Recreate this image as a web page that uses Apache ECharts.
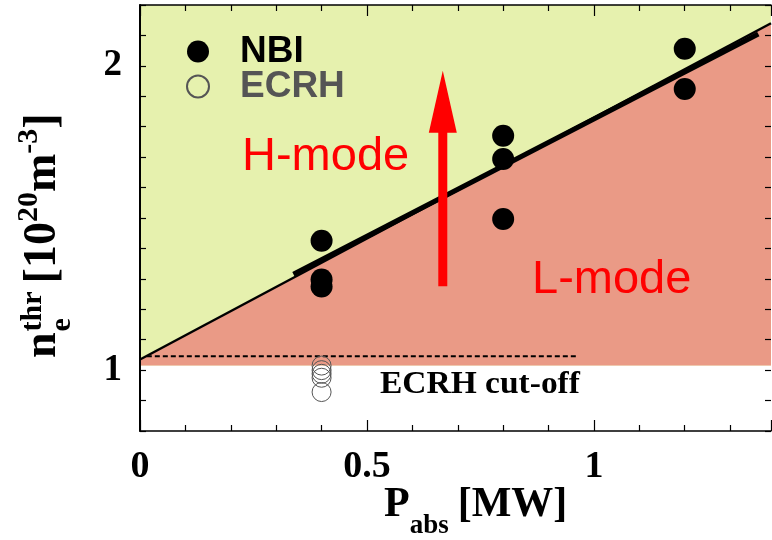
<!DOCTYPE html>
<html><head><meta charset="utf-8">
<script src="https://cdn.jsdelivr.net/npm/echarts@6/dist/echarts.min.js"></script>
<style>html,body{margin:0;padding:0;background:#fff}#c{width:772px;height:540px}</style>
</head><body><div id="c"></div>
<script>
// ---- data ----
const nbiX = [0.4, 0.4, 0.4, 0.8, 0.8, 0.8, 1.2, 1.2];
const nbiY = [1.425, 1.298, 1.275, 1.77, 1.694, 1.497, 2.056, 1.924];
const ecrhX = [0.4, 0.4, 0.4, 0.4, 0.4];
const ecrhY = [1.015, 1.0, 0.988, 0.975, 0.928];
const hModeX = [0, 0, 1.39, 1.39];
const hModeY = [1.015, 2.2, 2.2, 1.015];
const lModeX = [0, 0, 1.39, 1.39];
const lModeY = [1.015, 1.035, 2.14, 1.015];
const boundaryX = [0, 1.39];
const boundaryY = [1.035, 2.14];
const fitX = [0.338, 1.362];
const fitY = [1.315, 2.105];
const cutoffX = [0.015, 0.965];
const cutoffY = [1.046, 1.046];
const arrowX = [0.667, 0.667];
const arrowY = [1.276, 1.984];
const xTickLabels = [0, 0.5, 1];
const yTickLabels = [1, 2];
const xRange = [0, 1.39];
const yRange = [0.8, 2.2];

const SERIF = '"Liberation Serif", "Times New Roman", serif';
const SANS = '"Liberation Sans", Arial, sans-serif';
const zip = (a, b) => a.map((v, i) => [v, b[i]]);

const mctx = document.createElement('canvas').getContext('2d');
function tw(text, size, weight, family) { mctx.font = weight + ' ' + size + 'px ' + family; return mctx.measureText(text).width; }
function buildRow(parts, family, weight) {
  let cx = 0; const out = [];
  parts.forEach(p => {
    if (p.gap) { cx += p.gap; return; }
    out.push({ type: 'text', x: cx, y: (p.dy || 0) - 0.305 * p.s,
      style: { text: p.t, font: weight + ' ' + p.s + 'px ' + family, fill: '#000', align: 'left', verticalAlign: 'middle' } });
    if (p.adv !== false) cx += tw(p.t, p.s, weight, family);
  });
  return out;
}
const FY = 46, fy = 30;
const yTitle = buildRow([
  { t: 'n', s: FY }, { gap: 1 },
  { t: 'e', s: fy, dy: 14, adv: false },
  { t: 'thr', s: fy, dy: -15 }, { gap: 8 },
  { t: '[10', s: FY }, { t: '20', s: fy, dy: -19 },
  { t: 'm', s: FY }, { t: '-3', s: fy, dy: -19 }, { t: ']', s: FY }
], SERIF, 'bold');
const xTitle = buildRow([
  { t: 'P', s: 42 }, { t: 'abs', s: 27, dy: 16 }, { gap: 9 }, { t: '[MW]', s: 42 }
], SERIF, 'bold');

const regionPolys = [
  { xs: hModeX, ys: hModeY, fill: '#e6f1ae' },
  { xs: lModeX, ys: lModeY, fill: '#ea9a86' }
];

const near = (v, arr) => arr.some(t => Math.abs(v - t) < 1e-6);

const tickStyle = { color: '#000', width: 1.2 };
function xAx(pos, showLabel) {
  return {
    type: 'value', position: pos, z: 10, min: xRange[0], max: xRange[1], interval: 0.5,
    axisLine: { show: true, onZero: false, lineStyle: { color: '#000', width: 1.5 } },
    axisTick: { show: true, inside: true, length: 11, lineStyle: tickStyle },
    minorTick: { show: true, splitNumber: 5, length: 6, lineStyle: tickStyle },
    splitLine: { show: false }, minorSplitLine: { show: false },
    axisLabel: { show: showLabel, showMaxLabel: false, margin: 17, color: '#000', fontFamily: SERIF, fontWeight: 'bold', fontSize: 38,
      formatter: v => near(v, xTickLabels) ? String(v) : '' }
  };
}
function yAx(pos, showLabel, lineShow) {
  return {
    type: 'value', position: pos, z: 10, min: yRange[0], max: yRange[1], interval: 0.1,
    axisLine: { show: lineShow, onZero: false, lineStyle: { color: '#000', width: 2 } },
    axisTick: { show: true, inside: true, length: 6, interval: 0, lineStyle: tickStyle },
    splitLine: { show: false },
    axisLabel: { show: showLabel, interval: 0, margin: 18, color: '#000', fontFamily: SERIF, fontWeight: 'bold', fontSize: 37,
      formatter: v => near(v, yTickLabels) ? String(Math.round(v)) : '' }
  };
}

const chart = echarts.init(document.getElementById('c'), null, { renderer: 'canvas' });
chart.setOption({
  animation: false,
  backgroundColor: '#fff',
  grid: { left: 140, right: 1, top: 5, bottom: 109, containLabel: false, outerBoundsMode: 'none' },
  xAxis: [xAx('bottom', true), xAx('top', false)],
  yAxis: [yAx('left', true, true), yAx('right', false, false)],
  legend: {
    orient: 'vertical', left: 181, top: 28, itemGap: -2, itemWidth: 74, itemHeight: 22,
    data: [
      { name: 'NBI', textStyle: { color: '#000' } },
      { name: 'ECRH', textStyle: { color: '#555' } }
    ],
    textStyle: { fontFamily: SANS, fontWeight: 'bold', fontSize: 37 }
  },
  graphic: [
    { type: 'group', x: 57, y: 358, rotation: Math.PI / 2, children: yTitle },
    { type: 'group', x: 384, y: 518, children: xTitle },
    { type: 'text', x: 242, y: 157, style: { text: 'H-mode', font: '47px ' + SANS, fill: '#ff0000', align: 'left', verticalAlign: 'middle' }, z: 50 },
    { type: 'text', x: 532, y: 280, style: { text: 'L-mode', font: '47px ' + SANS, fill: '#ff0000', align: 'left', verticalAlign: 'middle' }, z: 50 },
    { type: 'text', x: 380, y: 385, scaleX: 1.08, style: { text: 'ECRH cut-off', font: 'bold 31px ' + SERIF, fill: '#000', align: 'left', verticalAlign: 'middle' }, z: 50 }
  ],
  series: [
    {
      type: 'custom', name: 'regions', z: 1, clip: true, silent: true,
      data: regionPolys.map((p, i) => [i * 0.1, 1]),
      renderItem: (params, api) => {
        const p = regionPolys[params.dataIndex];
        return { type: 'polygon', shape: { points: p.xs.map((x, k) => api.coord([x, p.ys[k]])) }, style: { fill: p.fill } };
      }
    },
    { type: 'line', name: 'boundary', z: 3, data: zip(boundaryX, boundaryY), symbol: 'none', lineStyle: { color: '#000', width: 2.5 } },
    { type: 'line', name: 'fit', z: 4, data: zip(fitX, fitY), symbol: 'none', lineStyle: { color: '#000', width: 5, cap: 'butt' } },
    { type: 'line', name: 'cutoff', z: 4, data: zip(cutoffX, cutoffY), symbol: 'none', lineStyle: { color: '#000', width: 2, type: [5, 3] } },
    {
      type: 'custom', name: 'arrow', z: 5, silent: true,
      data: [[arrowX[0], arrowY[0]]],
      renderItem: (params, api) => {
        const a = api.coord([arrowX[0], arrowY[0]]);
        const b = api.coord([arrowX[1], arrowY[1]]);
        const headLen = 62, headHalf = 14, shaft = 9;
        return { type: 'group', children: [
          { type: 'rect', shape: { x: a[0] - shaft / 2, y: b[1] + headLen - 2, width: shaft, height: a[1] - (b[1] + headLen - 2) }, style: { fill: '#ff0000' } },
          { type: 'polygon', shape: { points: [[b[0], b[1]], [b[0] - headHalf, b[1] + headLen], [b[0] + headHalf, b[1] + headLen]] }, style: { fill: '#ff0000' } }
        ] };
      }
    },
    { type: 'scatter', name: 'NBI', z: 6, data: zip(nbiX, nbiY), symbol: 'circle', symbolSize: 22, itemStyle: { color: '#000', opacity: 1 } },
    { type: 'scatter', name: 'ECRH', z: 6, data: zip(ecrhX, ecrhY), symbol: 'circle', symbolSize: 19,
      itemStyle: { color: 'rgba(0,0,0,0)', borderColor: '#555', borderWidth: 1, opacity: 1 } }
  ]
});
</script>
</body></html>
